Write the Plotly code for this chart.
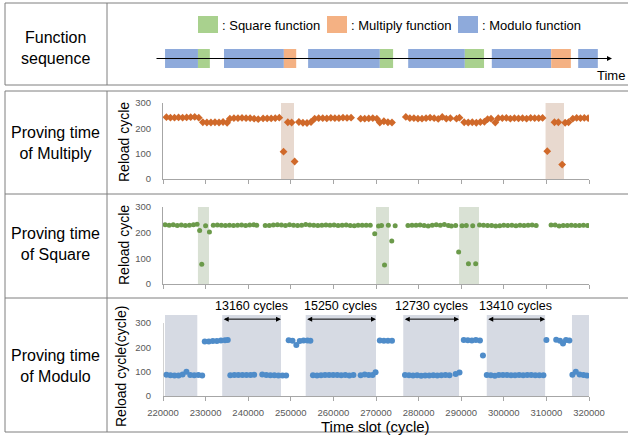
import plotly.graph_objects as go

# ---------------- data ----------------
# Function sequence (abstract time units on a 0..100 axis)
seq_func = ["Modulo", "Square", "Modulo", "Multiply", "Modulo", "Square",
            "Modulo", "Square", "Modulo", "Multiply", "Modulo"]
seq_start = [2.2, 9.4, 15.1, 28.2, 33.5, 49.2, 55.4, 67.8, 73.7, 86.7, 92.6]
seq_end = [9.4, 12.0, 28.2, 30.9, 49.2, 52.1, 67.8, 72.0, 86.7, 91.0, 96.9]

# Proving time of Multiply
mul_x = [220800, 221750, 222700, 223650, 224600, 225550, 226500, 227450, 228400,
         229350, 230300, 231250, 232200, 233150, 234100, 235050,
         235700, 236650, 237600, 238550, 239500, 240450, 241400, 242350,
         243500, 244450, 245400, 246350, 247300,
         248300, 249300, 250200, 250900,
         251900, 252850, 253800, 254750,
         255600, 256550, 257500, 258450, 259400, 260350, 261300, 262250, 263200, 264150,
         266400, 267350, 268300, 269250, 270200,
         270900, 271850, 272800, 273750,
         277000, 277950, 278900, 279850, 280800, 281750, 282700, 283650, 284600, 285550, 286500, 287450,
         288900, 289600,
         290700, 291650, 292600, 293550, 294500, 295450, 296200, 297000, 298000,
         298700, 299650, 300600, 301550, 302500, 303450, 304400, 305350, 306300, 307250, 308200, 309100,
         310200, 311900, 312800, 313700, 314400, 315200,
         316200, 317100, 318000, 318900, 319800]
mul_y = [244, 242, 242, 243, 242, 243, 244, 245, 242,
         224, 223, 223, 224, 223, 225, 222,
         238, 240, 240, 241, 240, 240, 238, 236,
         239, 239, 239, 240, 242,
         108, 224, 223, 69,
         225, 222, 221, 225,
         238, 240, 240, 239, 241, 240, 240, 242, 241, 242,
         238, 238, 239, 240, 238,
         223, 228, 224, 223,
         245, 240, 240, 238, 238, 240, 242, 240, 237, 245, 238, 240,
         238, 242,
         224, 223, 224, 222, 225, 226, 236, 238, 223,
         240, 240, 241, 238, 240, 239, 240, 238, 241, 240, 240, 241,
         110, 224, 224, 57, 222, 224,
         238, 241, 240, 241, 240]
mul_windows_start = [247700, 309800]
mul_windows_end = [250750, 314130]

# Proving time of Square
sq_x = [220500, 221450, 222400, 223350, 224300, 225250, 226200, 227150, 228000,
        228600, 229100, 230000, 230900,
        231800, 232750, 233700, 234650, 235600, 236550, 237500, 238450, 239400, 240350, 241300, 242000,
        244000, 244950, 245900, 246850, 247800, 248750, 249700, 250650, 251600, 252550, 253500, 254450,
        255400, 256350, 257300, 258250, 259200, 260150, 261100, 262050, 263000, 263950, 264900,
        265800, 266750, 267700, 268650,
        269700, 270600, 271300, 272000, 272900, 273700, 274500,
        277500, 278450, 279400, 280350, 281300, 282250, 283200, 284150, 285100, 286050, 287000, 287700,
        288700, 289400, 290200, 291200, 291700, 292700, 293400,
        294300, 295250, 296200, 297150, 298100, 299050, 300000, 300950, 301900, 302850, 303800, 304750,
        305700, 306650, 307600,
        311100, 312050, 313000, 313950, 314900, 315850, 316800, 317750, 318700, 319650]
sq_y = [231, 229, 231, 228, 230, 228, 229, 231, 233,
        208, 77, 227, 203,
        229, 230, 229, 228, 229, 228, 229, 230, 228, 230, 231, 229,
        228, 228, 230, 231, 230, 228, 231, 229, 228, 229, 232, 230,
        229, 228, 229, 230, 229, 230, 228, 229, 230, 228, 227,
        229, 229, 229, 229,
        196, 226, 228, 74, 229, 168, 227,
        228, 229, 229, 230, 228, 226, 229, 231, 229, 232, 228, 226,
        228, 125, 227, 228, 79, 227, 79,
        230, 229, 228, 228, 226, 227, 229, 228, 229, 227, 229, 228,
        229, 230, 228,
        230, 230, 226, 228, 228, 229, 228, 228, 229, 228]
sq_windows_start = [228200, 270000, 289500]
sq_windows_end = [230800, 273050, 294180]

# Proving time of Modulo
mod_x = [220800, 221750, 222700, 223650, 224600, 225500, 226400, 227350, 228300, 229200,
         229800, 230750, 231700, 232650, 233600, 234550, 235200,
         235800, 236750, 237700, 238650, 239600, 240550, 241400,
         243300, 244250, 245200, 246150, 247100, 248050, 248900,
         249500, 250400, 251300, 252100, 253000, 253900, 254600,
         255200, 256150, 257100, 258050, 259000, 259950, 260900, 261850, 262800, 263750, 264700,
         266400, 267350, 268300, 269200, 269900,
         270900, 271850, 272800, 273750,
         276800, 277750, 278700, 279650, 280600, 281550, 282500, 283450, 284400, 285350, 286300, 287250,
         288700, 289600,
         290600, 291550, 292500, 293450, 294400,
         295100,
         296000, 296950, 297900, 298850, 299800, 300750, 301700, 302650, 303600, 304550, 305500, 306450,
         307400, 308350, 309300,
         310000, 312300, 313200, 313900, 314600, 315400,
         316100, 316900, 317800, 318700, 319500]
mod_y = [87, 85, 84, 84, 88, 100, 86, 85, 86, 84,
         224, 224, 226, 226, 228, 229, 230,
         85, 86, 86, 86, 86, 86, 87,
         88, 86, 85, 85, 84, 84, 84,
         229, 227, 210, 226, 228, 228, 227,
         85, 84, 85, 86, 86, 86, 86, 85, 86, 84, 86,
         85, 88, 86, 86, 98,
         228, 227, 227, 227,
         86, 85, 84, 85, 83, 84, 84, 85, 84, 85, 86, 85,
         90, 97,
         230, 229, 228, 230, 228,
         166,
         86, 85, 83, 86, 86, 86, 85, 85, 86, 85, 86, 86,
         85, 85, 85,
         230, 231, 227, 216, 230, 228,
         87, 100, 88, 86, 84]
mod_windows_start = [220470, 233900, 253500, 276400, 296000, 316000]
mod_windows_end = [228050, 247700, 270000, 289500, 309700, 320500]
mod_window_labels = ["", "13160 cycles", "15250 cycles", "12730 cycles", "13410 cycles", ""]

x_ticks = list(range(220000, 320001, 10000))
y_ticks = [0, 100, 200, 300]

# ---------------- figure ----------------
W, H = 628, 436
def px(v): return v / W
def py(v): return 1 - v / H

FONT = "Liberation Sans, Arial, sans-serif"
GRID = "#7f7f7f"
AX = "#a6a6a6"
func_colors = {"Square": "#a9d18e", "Multiply": "#f4b183", "Modulo": "#8eaadb"}

fig = go.Figure()

# function sequence bars
fig.add_trace(go.Bar(
    x=[e - s for s, e in zip(seq_start, seq_end)], base=seq_start, y=[0] * len(seq_start),
    orientation="h", width=1, xaxis="x4", yaxis="y4",
    marker=dict(color=[func_colors[f] for f in seq_func], line=dict(width=0)),
    hoverinfo="skip", showlegend=False))

fig.add_trace(go.Scatter(x=mul_x, y=mul_y, mode="markers", xaxis="x", yaxis="y",
                         marker=dict(symbol="diamond", size=6, color="#d0692a"), showlegend=False))
fig.add_trace(go.Scatter(x=sq_x, y=sq_y, mode="markers", xaxis="x2", yaxis="y2",
                         marker=dict(symbol="circle", size=5, color="#6b9a4a"), showlegend=False))
fig.add_trace(go.Scatter(x=mod_x, y=mod_y, mode="markers", xaxis="x3", yaxis="y3",
                         marker=dict(symbol="circle", size=6, color="#4f8cc9"), showlegend=False))

shapes = []
# shaded windows
for s, e in zip(mul_windows_start, mul_windows_end):
    shapes.append(dict(type="rect", xref="x", yref="y", x0=s, x1=e, y0=0, y1=300,
                       fillcolor="#e8d9cf", line=dict(width=0), layer="below"))
for s, e in zip(sq_windows_start, sq_windows_end):
    shapes.append(dict(type="rect", xref="x2", yref="y2", x0=s, x1=e, y0=0, y1=300,
                       fillcolor="#d9e1d4", line=dict(width=0), layer="below"))
for s, e in zip(mod_windows_start, mod_windows_end):
    shapes.append(dict(type="rect", xref="x3", yref="y3", x0=s, x1=e, y0=0, y1=333,
                       fillcolor="#d6dae3", line=dict(width=0), layer="below"))
# modulo y-axis line
shapes.append(dict(type="line", xref="x3", yref="y3", x0=220000, x1=220000, y0=0, y1=300,
                   line=dict(color=AX, width=1)))

# table borders
def hline(y, x0=5, x1=628):
    shapes.append(dict(type="line", xref="paper", yref="paper", x0=px(x0), x1=px(x1),
                       y0=py(y), y1=py(y), line=dict(color=GRID, width=1)))
def vline(x, y0, y1):
    shapes.append(dict(type="line", xref="paper", yref="paper", x0=px(x), x1=px(x),
                       y0=py(y0), y1=py(y1), line=dict(color=GRID, width=1)))
for y in [3, 85, 91, 194, 298, 432]:
    hline(y)
vline(5, 3, 85); vline(107, 3, 85)
vline(5, 91, 432); vline(107, 91, 432)

# legend boxes
legend_items = [("Square", 198, ": Square function"), ("Multiply", 327, ": Multiply function"),
                ("Modulo", 458, ": Modulo function")]
annotations = []
for f, x0, label in legend_items:
    shapes.append(dict(type="rect", xref="paper", yref="paper", x0=px(x0), x1=px(x0 + 20),
                       y0=py(33), y1=py(16), fillcolor=func_colors[f], line=dict(width=0)))
    annotations.append(dict(xref="paper", yref="paper", x=px(x0 + 22), y=py(25), text=label,
                            showarrow=False, xanchor="left", yanchor="middle",
                            font=dict(family=FONT, size=13, color="#000")))

# time arrow
annotations.append(dict(xref="x4", yref="y4", axref="x4", ayref="y4", x=100, y=0, ax=0, ay=0,
                        text="", showarrow=True, arrowhead=2, arrowsize=1, arrowwidth=1,
                        arrowcolor="#000"))
annotations.append(dict(xref="paper", yref="paper", x=px(627), y=py(75), text="Time",
                        showarrow=False, xanchor="right", yanchor="middle",
                        font=dict(family=FONT, size=13, color="#000")))

# row labels
row_labels = [("Function<br>sequence", 48), ("Proving time<br>of Multiply", 143),
              ("Proving time<br>of Square", 244), ("Proving time<br>of Modulo", 366)]
for t, yc in row_labels:
    annotations.append(dict(xref="paper", yref="paper", x=px(56), y=py(yc), text=t,
                            showarrow=False, xanchor="center", yanchor="middle",
                            font=dict(family=FONT, size=16, color="#000")))

# y-axis titles
for t, xc, yc in [("Reload cycle", 124, 142), ("Reload cycle", 124, 245),
                  ("Reload cycle(cycle)", 121, 367)]:
    annotations.append(dict(xref="paper", yref="paper", x=px(xc), y=py(yc), text=t,
                            textangle=-90, showarrow=False, xanchor="center", yanchor="middle",
                            font=dict(family=FONT, size=14, color="#000")))
annotations.append(dict(xref="paper", yref="paper", x=px(375), y=py(426), text="Time slot (cycle)",
                        showarrow=False, xanchor="center", yanchor="middle",
                        font=dict(family=FONT, size=15, color="#000")))

# modulo window arrows
for s, e, lab in zip(mod_windows_start, mod_windows_end, mod_window_labels):
    if not lab:
        continue
    annotations.append(dict(xref="x3", yref="y3", axref="x3", ayref="y3", x=e, y=316, ax=s, ay=316,
                            text="", showarrow=True, arrowhead=2, arrowside="end+start",
                            arrowsize=1, arrowwidth=1, arrowcolor="#000"))
    annotations.append(dict(xref="x3", yref="y3", x=(s + e) / 2, y=316, text=lab, showarrow=False,
                            yshift=13, xanchor="center", yanchor="middle",
                            font=dict(family=FONT, size=12.5, color="#000")))

tickfont = dict(family=FONT, size=9.5, color="#595959")
def xax(domain_y_anchor, labels):
    return dict(domain=[px(163), px(589)], range=[220000, 320000], anchor=domain_y_anchor,
                showline=True, linecolor=AX, linewidth=1, ticks="outside", ticklen=4,
                tickcolor=AX, tickvals=x_ticks, tickformat="d", showticklabels=labels,
                showgrid=False, zeroline=False, tickfont=tickfont, ticklabelstandoff=4,
                automargin=False)
def yax(anchor, dom, rng, line=True):
    return dict(domain=dom, range=rng, anchor=anchor, tickvals=y_ticks, showline=line,
                linecolor=AX, linewidth=1, ticks="outside", ticklen=9,
                tickcolor="rgba(0,0,0,0)", showgrid=False, zeroline=False, tickfont=tickfont,
                automargin=False)

fig.update_layout(
    template="none",
    width=W, height=H, margin=dict(l=0, r=0, t=0, b=0, pad=0), autosize=False,
    paper_bgcolor="white", plot_bgcolor="rgba(0,0,0,0)", showlegend=False,
    xaxis=xax("y", False), yaxis=yax("x", [py(179), py(103)], [0, 300]),
    xaxis2=xax("y2", False), yaxis2=yax("x2", [py(284), py(207)], [0, 300]),
    xaxis3=xax("y3", True), yaxis3=yax("x3", [py(396), py(315)], [0, 333], line=False),
    xaxis4=dict(domain=[px(155), px(612)], range=[0, 100], anchor="y4", visible=False,
                automargin=False),
    yaxis4=dict(domain=[py(68), py(49)], range=[-0.5, 0.5], anchor="x4", visible=False,
                automargin=False),
    shapes=shapes, annotations=annotations, font=dict(family=FONT),
)

fig.write_html("out.html", config={"displayModeBar": False, "responsive": False},
               post_script="document.body.style.margin='0px';")
